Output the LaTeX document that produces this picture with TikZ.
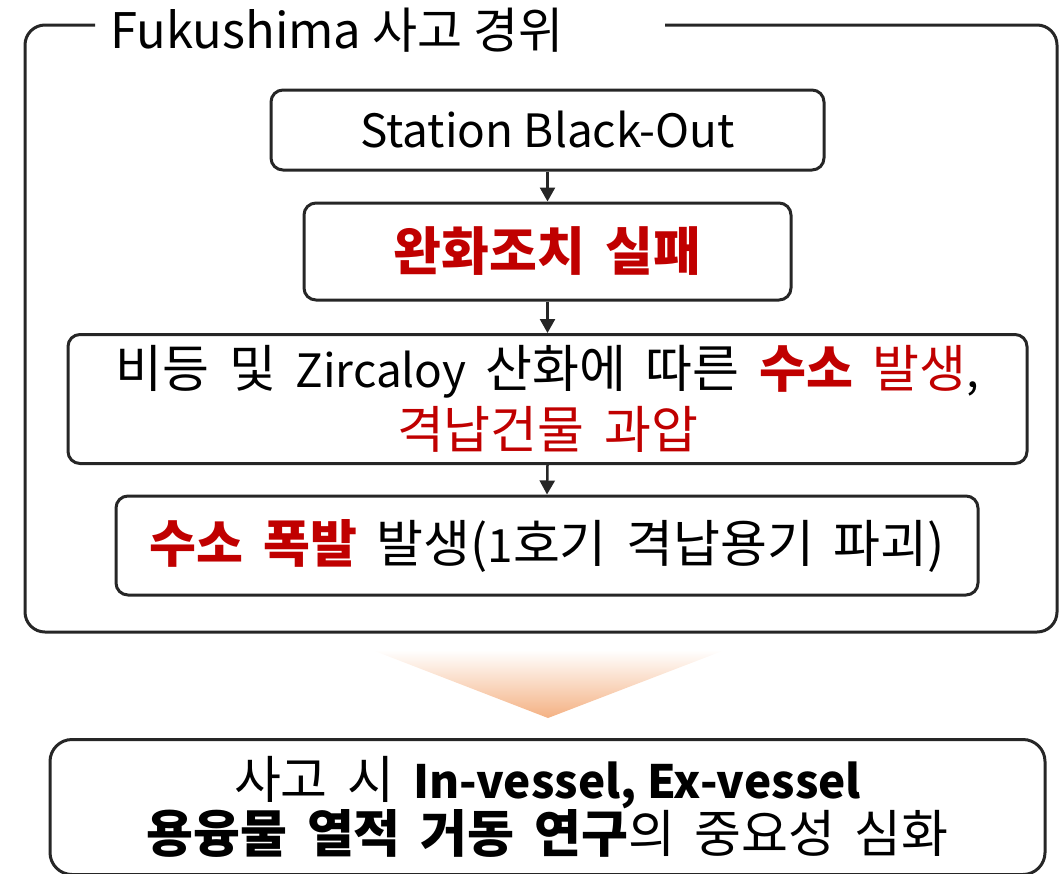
\documentclass[tikz,border=0pt]{standalone}
\usepackage{fontspec}
\setmainfont{Noto Sans CJK KR}[WordSpace=1.7]
\newfontfamily\lat{Noto Sans CJK KR}[Scale=0.9]
\newfontfamily\ttlfont{Noto Sans CJK KR}
\usetikzlibrary{arrows.meta,shadings}
\definecolor{lc}{HTML}{262626}
\definecolor{rd}{HTML}{C00000}
\definecolor{org}{HTML}{F4B183}
\tikzset{
  box/.style={draw=lc, line width=3pt, rounded corners=12pt, align=center, inner sep=0pt, text=black},
  flow/.style={draw=lc, line width=2.5pt, -{Triangle[length=14pt,width=15pt]}},
}
\begin{document}
\begin{tikzpicture}[x=1pt,y=-1pt]
\useasboundingbox (0,0) rectangle (1059,873);
% outer frame
\draw[lc, line width=3pt, rounded corners=20pt] (95,25) -- (25,25) -- (25,632) -- (1057,632) -- (1057,25) -- (665,25);
\node[anchor=center, font=\ttlfont\fontsize{49}{56}\selectfont] (title) at (337,30) {Fukushima 사고 경위};
% boxes
\node[box, minimum width=553pt, minimum height=80pt, font=\fontsize{51}{58}\selectfont] (b1) at (547.5,130) {\lat Station Black-Out};
\node[box, minimum width=487pt, minimum height=97pt, font=\fontsize{52}{58}\selectfont\bfseries, text=rd] (b2) at (547.5,251.5) {완화조치 실패};
\node[box, minimum width=959pt, minimum height=129pt, font=\fontsize{51}{61}\selectfont] (b3) at (547.5,399) {비등 및 {\lat Zircaloy} 산화에 따른 \textcolor{rd}{\textbf{수소} 발생}{\lat ,}\\\textcolor{rd}{격납건물 과압}};
\node[box, minimum width=862pt, minimum height=99pt, font=\fontsize{51}{58}\selectfont] (b4) at (547,545.5) {\textcolor{rd}{\textbf{수소 폭발}} 발생({\lat 1}호기 격납용기 파괴)};
\draw[flow] (b1.south) -- (b2.north);
\draw[flow] (b2.south) -- (b3.north);
\draw[flow] (b3.south) -- (b4.north);
% gradient triangle
\shade[top color=white, bottom color=org, shading angle=0] (372,650) -- (725,650) -- (548,718) -- cycle;
% bottom box
\node[box, rounded corners=22pt, minimum width=995pt, minimum height=135pt, font=\fontsize{51}{54}\selectfont] (b5) at (547.5,807) {사고 시 {\lat\bfseries In-vessel, Ex-vessel}\\\textbf{용융물 열적 거동 연구}의 중요성 심화};
\end{tikzpicture}
\end{document}
